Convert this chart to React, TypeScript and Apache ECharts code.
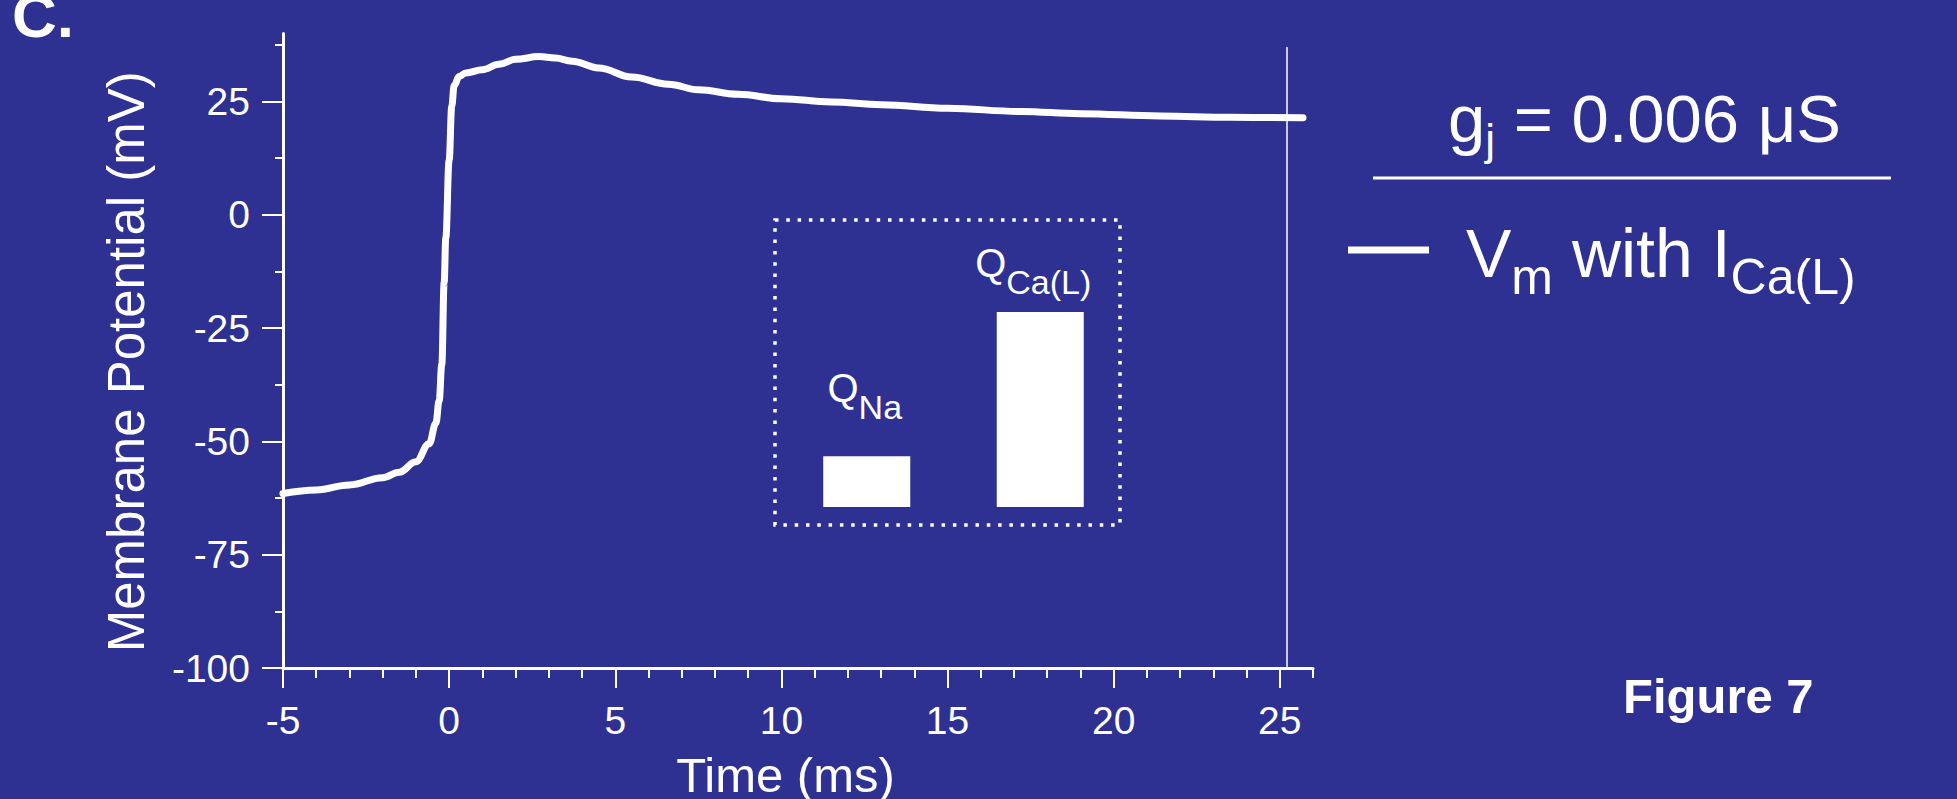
import React, { useEffect, useRef } from "react";
import * as echarts from "echarts";

// Membrane potential trace (time in ms, Vm in mV)
const timeMs = [
  -5, -4, -3, -2, -1.5, -1, -0.6, -0.4, -0.3, -0.22, -0.15, -0.1, 0, 0.08, 0.15, 0.3, 0.5, 1, 1.5, 2,
  2.7, 3.2, 3.7, 4.5, 5.5, 6.6, 7.5, 8.7, 10, 11.5, 13, 15, 17.2, 19, 21.4, 23.5, 25.7,
];
const vm = [
  -61.5, -60.7, -59.6, -58, -56.8, -54.5, -50.5, -46, -41, -33, -15, -5, 12, 24, 28.5, 30.5, 31.3, 32, 33.2, 34.3,
  34.9, 34.6, 33.9, 32.4, 30.4, 28.8, 27.6, 26.6, 25.6, 24.9, 24.3, 23.5, 22.8, 22.3, 21.8, 21.5, 21.4,
];

const xMajorTicks = [-5, 0, 5, 10, 15, 20, 25];
const xMinorTicks = [-4, -3, -2, -1, 1, 2, 3, 4, 6, 7, 8, 9, 11, 12, 13, 14, 16, 17, 18, 19, 21, 22, 23, 24, 26];
const yMajorTicks = [-100, -75, -50, -25, 0, 25];
const yMinorTicks = [-87.5, -62.5, -37.5, -12.5, 12.5, 37.5];

// Inset: relative charge carried by each current
const insetCategories = ["Na", "Ca(L)"];
const insetCharge = [0.26, 1.0];

const markerTime = 25.2;
const markerTop = 37;

const FONT = '"Liberation Sans", Arial, Helvetica, sans-serif';
const BG = "#2e3192";
const W = "#ffffff";

let measureCtx: CanvasRenderingContext2D | null = null;
function textWidth(text: string, font: string): number {
  if (!measureCtx) measureCtx = document.createElement("canvas").getContext("2d");
  if (!measureCtx) return text.length * 20;
  measureCtx.font = font;
  return measureCtx.measureText(text).width;
}

// text element placed by its alphabetic baseline (approx.)
function baseText(text: string, x: number, baseline: number, size: number, bold = false) {
  const font = `${bold ? "bold " : ""}${size}px ${FONT}`;
  return {
    type: "text",
    x,
    y: baseline - 0.35 * size,
    style: { text, fill: W, font, align: "left", verticalAlign: "middle" },
  };
}

// main text followed by lowered subscript pieces
function subscriptLine(parts: [string, boolean][], x: number, baseline: number, size: number, subSize: number, drop: number) {
  const children: any[] = [];
  let cx = x;
  for (const [t, isSub] of parts) {
    const fs = isSub ? subSize : size;
    const bl = isSub ? baseline + drop : baseline;
    children.push(baseText(t, cx, bl, fs));
    cx += textWidth(t, `${fs}px ${FONT}`);
  }
  return children;
}

export default function App() {
  const ref = useRef<HTMLDivElement>(null);

  useEffect(() => {
    if (!ref.current) return;
    const chart = echarts.init(ref.current, null, { renderer: "svg" });

    const qSize = 40;
    const subSize = 34;
    const labelGap = [37, 18];
    const labelShift = [2, 7];
    const barW = 87;

    const option: any = {
      animation: false,
      backgroundColor: BG,
      textStyle: { fontFamily: FONT },
      grid: [
        { left: 283, top: 33.5, width: 1030, height: 634.5, outerBoundsMode: "none", containLabel: false },
        { left: 780, top: 214.5, width: 347, height: 292.5, outerBoundsMode: "none", containLabel: false },
      ],
      xAxis: [
        {
          type: "value",
          gridIndex: 0,
          position: "bottom",
          min: -5,
          max: 26,
          axisLine: { show: true, onZero: false, lineStyle: { color: W, width: 3 } },
          axisTick: { show: true, customValues: xMajorTicks, length: 20, lineStyle: { color: W, width: 2 } },
          axisLabel: { show: true, customValues: xMajorTicks, color: W, fontSize: 39, margin: 33, fontFamily: FONT },
          splitLine: { show: false },
          name: "Time (ms)",
          nameLocation: "middle",
          nameGap: 82,
          nameTextStyle: { color: W, fontSize: 49, lineHeight: 49, fontFamily: FONT, padding: [0, 25, 0, 0] },
        },
        {
          type: "value",
          gridIndex: 0,
          position: "bottom",
          min: -5,
          max: 26,
          axisLine: { show: false, onZero: false },
          axisTick: { show: true, customValues: xMinorTicks, length: 10, lineStyle: { color: W, width: 2 } },
          axisLabel: { show: false },
          splitLine: { show: false },
        },
        {
          type: "category",
          gridIndex: 1,
          data: insetCategories,
          show: false,
        },
      ],
      yAxis: [
        {
          type: "value",
          gridIndex: 0,
          position: "left",
          min: -100,
          max: 40,
          axisLine: { show: true, onZero: false, lineStyle: { color: W, width: 3 } },
          axisTick: { show: true, customValues: yMajorTicks, length: 21, lineStyle: { color: W, width: 2 } },
          axisLabel: { show: true, customValues: yMajorTicks, color: W, fontSize: 39, margin: 33, fontFamily: FONT },
          splitLine: { show: false },
          name: "Membrane Potential (mV)",
          nameLocation: "middle",
          nameGap: 131,
          nameTextStyle: { color: W, fontSize: 51, fontFamily: FONT, padding: [0, 22, 0, 0] },
        },
        {
          type: "value",
          gridIndex: 0,
          position: "left",
          offset: 0,
          min: -100,
          max: 40,
          axisLine: { show: false, onZero: false },
          axisTick: { show: true, customValues: yMinorTicks, length: 8, lineStyle: { color: W, width: 2 } },
          axisLabel: { show: false },
          splitLine: { show: false },
        },
        {
          type: "value",
          gridIndex: 1,
          min: 0,
          max: 1.5,
          show: false,
          splitLine: { show: false },
        },
      ],
      series: [
        {
          name: "Vm with ICa(L)",
          type: "line",
          xAxisIndex: 0,
          yAxisIndex: 0,
          data: timeMs.map((t, i) => [t, vm[i]]),
          showSymbol: false,
          symbol: "none",
          smooth: 0.4,
          smoothMonotone: "x",
          lineStyle: { color: W, width: 7, cap: "round", join: "round" },
          markLine: {
            silent: true,
            symbol: ["none", "none"],
            label: { show: false },
            lineStyle: { color: W, width: 1.5, type: "solid" },
            data: [[{ coord: [markerTime, -100] }, { coord: [markerTime, markerTop] }]],
          },
          z: 3,
        },
        {
          name: "Charge",
          type: "custom",
          coordinateSystem: "cartesian2d",
          xAxisIndex: 2,
          yAxisIndex: 2,
          data: insetCharge.map((v, i) => [i, v]),
          renderItem: (params: any, api: any) => {
            const i = params.dataIndex;
            const base = api.coord([api.value(0), 0]);
            const top = api.coord([api.value(0), api.value(1)]);
            const cx = top[0];
            const sub = insetCategories[i];
            const qW = textWidth("Q", `${qSize}px ${FONT}`);
            const sW = textWidth(sub, `${subSize}px ${FONT}`);
            const left = cx - (qW + sW) / 2 - labelShift[i];
            const subBase = top[1] - labelGap[i];
            const qBase = subBase - 17;
            return {
              type: "group",
              children: [
                {
                  type: "rect",
                  shape: { x: cx - barW / 2, y: top[1], width: barW, height: base[1] - top[1] },
                  style: { fill: W },
                },
                baseText("Q", left, qBase, qSize),
                baseText(sub, left + qW, subBase, subSize),
              ],
            };
          },
        },
      ],
      graphic: [
        {
          type: "text",
          left: 12,
          top: -16,
          style: { text: "C.", fill: W, font: `bold 62px ${FONT}` },
        },
        {
          type: "rect",
          shape: { x: 775, y: 220, width: 345, height: 305 },
          style: { fill: "none", stroke: W, lineWidth: 3.5, lineDash: [3.5, 7.8] },
          z: 5,
        },
        {
          type: "group",
          children: subscriptLine(
            [
              ["g", false],
              ["j", true],
              [" = 0.006 μS", false],
            ],
            1448,
            142,
            67,
            44,
            13
          ),
        },
        {
          type: "line",
          shape: { x1: 1373, y1: 178, x2: 1891, y2: 178 },
          style: { stroke: W, lineWidth: 3 },
        },
        {
          type: "line",
          shape: { x1: 1348, y1: 250, x2: 1429, y2: 250 },
          style: { stroke: W, lineWidth: 7 },
        },
        {
          type: "group",
          children: subscriptLine(
            [
              ["V", false],
              ["m", true],
              [" with I", false],
              ["Ca(L)", true],
            ],
            1466,
            277,
            68,
            50,
            17
          ),
        },
        baseText("Figure 7", 1623, 713, 49, true),
      ],
    };

    chart.setOption(option);
    return () => chart.dispose();
  }, []);

  return (
    <div
      ref={ref}
      style={{ position: "fixed", left: 0, top: 0, width: 1957, height: 799, background: BG }}
    />
  );
}
